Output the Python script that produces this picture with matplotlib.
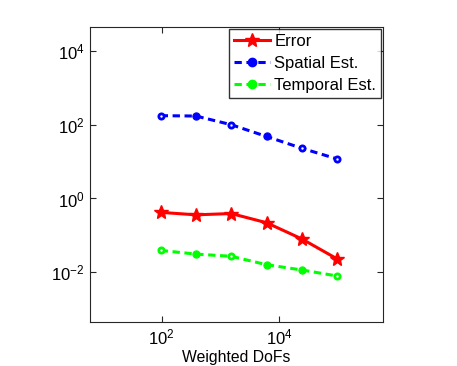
import matplotlib
matplotlib.use("Agg")
import matplotlib.pyplot as plt
from matplotlib.lines import Line2D

plt.rcParams['font.family'] = ['Liberation Sans', 'DejaVu Sans']
plt.rcParams['mathtext.fontset'] = 'custom'
plt.rcParams['mathtext.rm'] = 'Liberation Sans'
plt.rcParams['mathtext.it'] = 'Liberation Sans'

dofs = [96, 384, 1536, 6144, 24576, 98304]
error = [0.42, 0.36, 0.39, 0.22, 0.080, 0.023]
spatial = [176, 172, 100, 48, 23, 11.8]
temporal = [0.039, 0.031, 0.027, 0.016, 0.0115, 0.0079]
spatial_filled = [False, True, False, True, False, False]
temporal_filled = [False, True, False, True, True, False]

GREEN = (0, 1, 0)
DASH = (0, (2.4, 1.5))
LW = 2.2

fig = plt.figure(figsize=(4.57, 3.66), dpi=100)
ax = fig.add_axes([90/457, 44/366, 293/457, 295/366])

ax.plot(dofs, error, color='red', lw=LW, marker='*', ms=10, label='Error')
ax.plot(dofs, spatial, color='blue', lw=LW, ls=DASH, label='Spatial Est.')
ax.plot(dofs, temporal, color=GREEN, lw=LW, ls=DASH, label='Temporal Est.')

for xs, ys, fl, c in [(dofs, spatial, spatial_filled, 'blue'),
                      (dofs, temporal, temporal_filled, GREEN)]:
    for x, y, f in zip(xs, ys, fl):
        if f:
            ax.plot([x], [y], ls='none', marker='o', ms=5.2, mfc=c, mec=c,
                    mew=0.8, zorder=3)
        else:
            ax.plot([x], [y], ls='none', marker='o', ms=3.8, mfc='white', mec=c,
                    mew=2.0, zorder=3)

ax.set_xscale('log')
ax.set_yscale('log')
ax.set_xlim(10**0.776, 10**5.776)
ax.set_ylim(10**-3.35, 10**4.65)
ax.set_xticks([1e2, 1e4])
ax.set_yticks([1e-2, 1e0, 1e2, 1e4])
ax.minorticks_off()
ax.tick_params(direction='in', top=True, right=True, length=4, width=0.8,
               labelsize=12, colors='#262626', pad=4)
ax.tick_params(axis='both', labelcolor='black')
for s in ax.spines.values():
    s.set_color('#262626')
    s.set_linewidth(0.8)
ax.set_xlabel('Weighted DoFs', fontsize=11.3, labelpad=2)

handles = [
    Line2D([], [], color='red', lw=LW, marker='*', ms=10),
    Line2D([], [], color='blue', lw=LW, ls=DASH, marker='o', ms=6),
    Line2D([], [], color=GREEN, lw=LW, ls=DASH, marker='o', ms=6),
]
leg = ax.legend(handles, ['Error', 'Spatial Est.', 'Temporal Est.'],
                loc='upper right', fontsize=12, frameon=True, fancybox=False,
                borderaxespad=0.1, handlelength=2.2, handletextpad=0.25,
                labelspacing=0.42, borderpad=0.3)
leg.get_frame().set_edgecolor('black')
leg.get_frame().set_linewidth(1.0)

fig.savefig('out.png', dpi=100)
